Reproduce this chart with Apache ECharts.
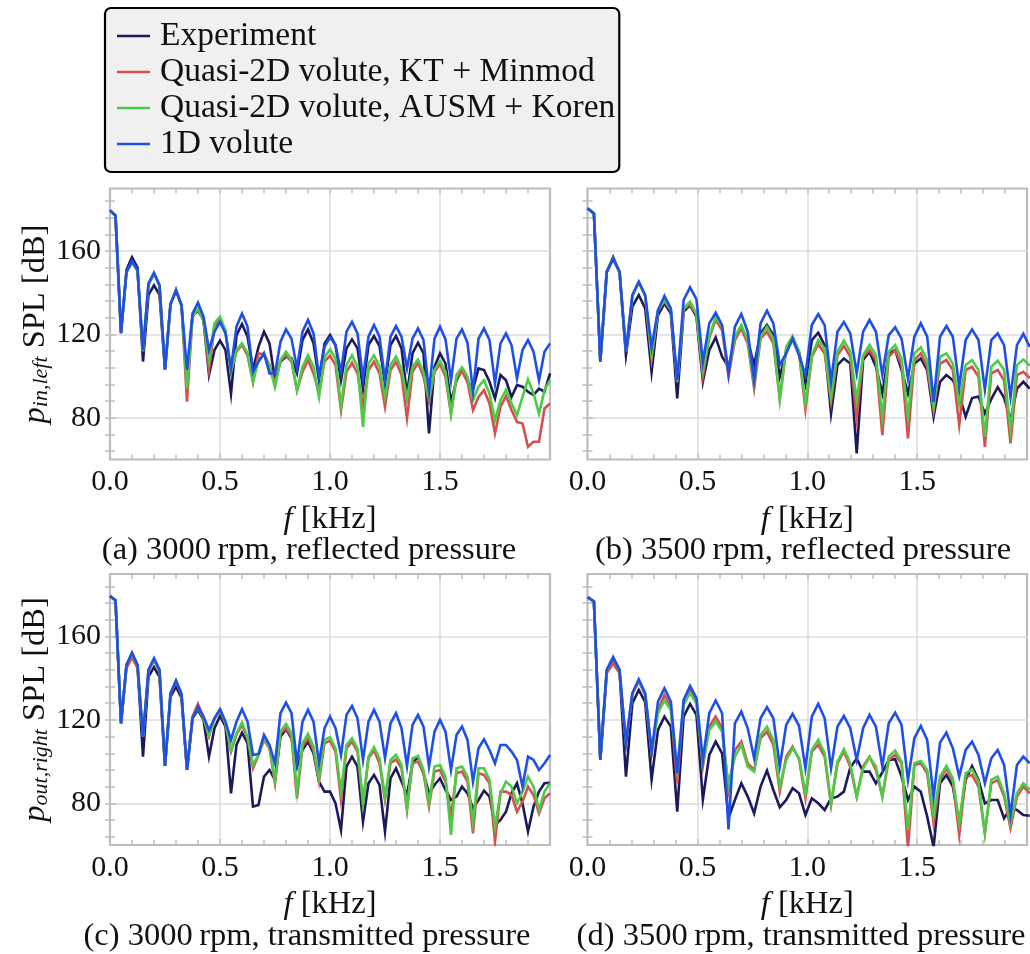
<!DOCTYPE html>
<html><head><meta charset="utf-8">
<script src="https://cdn.jsdelivr.net/npm/echarts@6/dist/echarts.min.js"></script>
<style>html,body{margin:0;padding:0;background:#fff}#c{width:1030px;height:954px}</style>
</head><body><div id="c"></div><script>
// ---------- data ----------
const SERIES_NAMES = ['Experiment', 'Quasi-2D volute, KT + Minmod', 'Quasi-2D volute, AUSM + Koren', '1D volute'];
const CAPTIONS = ['(a) 3000\u2009rpm, reflected pressure', '(b) 3500\u2009rpm, reflected pressure',
                  '(c) 3000\u2009rpm, transmitted pressure', '(d) 3500\u2009rpm, transmitted pressure'];
const X_LABELS = [0, 0.5, 1.0, 1.5];
const X_MINOR = [0.1,0.2,0.3,0.4,0.6,0.7,0.8,0.9,1.1,1.2,1.3,1.4,1.6,1.7,1.8,1.9];
const X_MAJOR = [0.5, 1.0, 1.5];
const Y_LABELS = [80, 120, 160];
const Y_MINOR = [64,72,88,96,104,112,128,136,144,152,168,176,184];

// frequency [kHz] sampling of the spectra
const F3000 = [0,0.025,0.05,0.075,0.1,0.125,0.15,0.175,0.2,0.225,
 0.25,0.275,0.3,0.325,0.35,0.375,0.4,0.425,0.45,0.475,
 0.5,0.525,0.55,0.575,0.6,0.625,0.65,0.675,0.7,0.725,
 0.75,0.775,0.8,0.825,0.85,0.875,0.9,0.925,0.95,0.975,
 1.0,1.025,1.05,1.075,1.1,1.125,1.15,1.175,1.2,1.225,
 1.25,1.275,1.3,1.325,1.35,1.375,1.4,1.425,1.45,1.475,
 1.5,1.525,1.55,1.575,1.6,1.625,1.65,1.675,1.7,1.725,
 1.75,1.775,1.8,1.825,1.85,1.875,1.9,1.925,1.95,1.975,
 2.0];
const F3500 = [0,0.0292,0.0583,0.0875,0.1167,0.1458,0.175,0.2042,0.2333,0.2625,
 0.2917,0.3208,0.35,0.3792,0.4083,0.4375,0.4667,0.4958,0.525,0.5542,
 0.5833,0.6125,0.6417,0.6708,0.7,0.7292,0.7583,0.7875,0.8167,0.8458,
 0.875,0.9042,0.9333,0.9625,0.9917,1.0208,1.05,1.0792,1.1083,1.1375,
 1.1667,1.1958,1.225,1.2542,1.2833,1.3125,1.3417,1.3708,1.4,1.4292,
 1.4583,1.4875,1.5167,1.5458,1.575,1.6042,1.6333,1.6625,1.6917,1.7208,
 1.75,1.7792,1.8083,1.8375,1.8667,1.8958,1.925,1.9542,1.9833,2.0125];

// (a) 3000 rpm, reflected
const A_EXP = [179.5,177,121,151,157,152,107,139,143.5,139,
 103,134.5,141,134,97,129,131.5,127,100.5,112.5,
 117,112.5,91.5,119.5,125,119,103,114,121.3,115.7,
 98,107,109.3,108.5,101.3,117.3,122.4,115.7,98,115.5,
 119.7,114.9,98,113.3,117.6,113.3,94,114.9,119.2,114.4,
 96.5,114.9,119.2,113.3,91,110.9,116,110.9,72.5,104.5,
 110.9,106,87.7,98,102.9,97.3,93.6,103.7,102.9,97.3,
 89.3,100.5,98,90,95.7,94.9,92.5,90.9,94,92.5,
 101.3];
const A_KT = [179.5,177,121,150,154.5,150.5,112,144,149,143.5,
 103,134.5,141.5,134,87.7,128.5,132,127,103,123.7,
 127,121,102,111.7,115,110,97,110.9,110.5,105.3,
 96.5,107.5,110,107,93,102,107.7,101.3,91.7,107,
 109.8,105.3,83.7,102,106.4,101.3,85.3,102.9,106.9,101.3,
 85.3,102.9,106.9,100.5,79.7,102,106.4,99.7,87.7,102,
 105.8,99.7,81.8,98.9,102.4,97.3,83.7,90,93.3,86.9,
 72.5,85.3,90.4,83.7,78,77.3,66.1,68.5,68.5,84.5,
 86.9];
const A_AUSM = [179.5,177,121,150,154.5,150.5,112,144,149,143.5,
 103,134.5,141.5,134,94,128.5,132.5,127,107.7,125.3,
 128.5,122,102,112.5,115.7,111,97.3,107.7,110,104.5,
 94.6,107.7,111.7,107.7,93.3,104.5,110,104.5,90,109,
 112.8,108.5,86,105.3,110,104.5,75.7,106,110,104.5,
 90,105.3,109.3,103.7,89.3,104.5,108,102,89.3,102.9,
 107.2,102,82,100.5,104.2,99.7,88.5,94.9,98,91.7,
 78.9,88.5,93.3,86.9,81.3,90,98.4,91.7,82,93.3,
 98];
const A_1D = [179.5,177,120.5,150,155.2,151,112.5,144.5,149.6,143.7,
 103.2,134.6,141,134,103,130,135.2,128.5,112.5,121.3,
 126,120.5,103.7,123.7,130,123.7,102,106.9,111,101.3,
 101.3,116.5,122.4,118,103.7,121.3,126.9,120.5,99.7,114,
 118.6,114.9,102,121.3,126,120.5,98.9,118.9,124.5,118.9,
 98,118.9,124,118.9,103.7,118,122.9,117.3,92.5,118,
 123.7,117.6,98,118,122.4,116,92.5,118,122.9,117.3,
 96.5,115.7,120.5,114.9,98.9,112.5,117.3,111.7,98,111.7,
 115.7];

// (b) 3500 rpm, reflected
const B_EXP = [180.5,178,107,150,157,150,110,133.3,138.9,132.5,
 102,129.3,134.9,130,89.3,130.9,134,128.5,97.3,112.5,
 118.6,109.3,104.5,117.6,123.7,117,105.3,120.5,124.5,119.7,
 99.7,111.7,118,111.5,96.5,117.3,120.8,114.9,82,105.3,
 108.5,106,62.9,107.7,111.7,104.5,91.7,110.9,112.5,102.9,
 91.7,106,108.5,102.9,80.5,97.3,100.5,98,91,80.5,
 89.5,90.2,82,89,94.7,89.6,78.9,94,97.3,94];
const B_KT = [180.5,178,107,150,156.2,150,111.7,138.5,145,138.5,
 108.5,131.5,136,131.5,97,132,134.6,129.5,99.7,118.5,
 127,122,99.7,117.3,122.9,115.7,94,118,121.3,115.7,
 89.3,112.5,117.3,111,84,109.3,115.2,110.9,87.7,110,
 114.4,109.3,79.7,109.3,112.5,107.7,71.7,109.3,112.5,105.3,
 70.1,107.7,110.9,104.5,83.7,106,107.7,102.9,76.5,102.9,
 104.5,99.7,66.1,101.3,102.9,98,67.7,100.5,102.1,99];
const B_AUSM = [180.5,178,107,150,156.2,150,111.7,138.5,145,138.5,
 110,131.5,136.5,132,97.3,132.5,135.7,130,102.9,118.9,
 128.5,123.7,102,118.9,124.5,117.3,96.5,118.9,123.7,118,
 88.5,114,119.2,112,87,110,117.3,113.3,90,111.7,
 117,111.7,88.5,110,114.9,110,80.5,111.7,114.9,108.5,
 80.5,110.9,113.8,107.7,85.3,109.3,110.9,106,86.9,105.3,
 107.7,102.9,70.9,104.5,107.4,102.9,74.1,105.3,108,105];
const B_1D = [180.5,178,106.9,150,156.2,150,111.7,138.9,145.3,138.9,
 114,131.7,138.4,132.5,98,136.5,142.6,136.8,106.9,125.3,
 130.4,124.5,101.3,123.7,129.8,121.3,98,125.3,131.4,125.3,
 105.3,110.9,118,110,100.5,124.5,129.8,124.5,97.3,121.3,
 126,120.5,101.3,121.3,126.9,121.3,100.5,119.7,123.4,118,
 98.9,118.9,125.3,118.9,87.7,118.9,124,118.9,94.9,117.3,
 122.4,117.3,93.6,117.3,120.5,114.9,90,114.9,120.3,114];

// (c) 3000 rpm, transmitted
const C_EXP = [179.5,177.3,118.4,146.4,151,146,102.4,140.8,145.3,140.5,
 97.9,131,136,130.5,96,120.8,124.8,120,102.4,116,
 121.9,116.8,84.8,108,113.9,108.8,78.4,79.2,92.8,96,
 91.2,112,115.5,111.2,97.6,105.6,109.6,104,90.4,85.6,
 85.6,80,67.2,97.6,102.4,97.6,71.2,89.6,93.6,88.8,
 66.4,92,96.8,90.4,84,99.2,102.4,94.4,84.8,88.8,
 92,86.4,81.6,83.2,88,84.8,77.6,81.6,86.1,83.2,
 69.6,72,76,84.8,89.6,80,66.4,78.4,85.6,89.6,
 89.9];
const C_KT = [179.5,177.3,118.4,144.8,150,145,112,143.5,148.5,143.5,
 97.9,132.5,138.5,132,96,121.6,127.7,121,112,120.5,
 124.8,118,104.8,113,117.6,111.2,96.8,103,110.4,106.5,
 89.6,113.6,116,112,82.4,107.2,111.2,105.6,90.4,108.8,
 110.1,104.8,81.6,106.4,109.6,104.8,80,101.6,105.3,99.2,
 81.6,99.2,101.1,96.8,76.8,99.2,100,94.4,78.4,95.2,
 96,90.4,73.6,94.4,95.2,90.4,65.6,94.4,93.6,89.6,
 61.6,85.6,85.6,84,76,80.8,88,84,75.2,82.4,
 84.8];
const C_AUSM = [179.5,177.3,118.4,146.4,152,146.4,112,144,149,144,
 97.9,132.8,138.9,132.5,96,120.8,126,120.8,112.8,120.8,
 125.1,118.4,105.6,113.6,118.7,112,98.4,103.2,111.2,107.2,
 91.2,114.4,118.1,113.6,85.6,108.8,113.3,107.2,92,110.4,
 111.7,106.4,85.6,108,111.2,106.4,80,102.4,106.9,101.6,
 82.9,100.8,103.2,98.4,77.6,101.6,102.7,96,80,97.6,
 98.4,92.8,64.8,96.8,97.6,92.8,70.4,96.8,96.8,91.2,
 68.8,84.8,90.4,88,80,85.6,92.8,88,76.8,85.6,
 89.6];
const C_1D = [179.5,177.3,118.4,146.4,152.3,146.4,112,144,149.6,144,
 97.9,132.8,138.9,132.5,96,120.8,126.4,121.6,115.2,120.8,
 125.1,119.2,110.4,119.2,125.1,119.2,103.2,103.7,112.8,108,
 99.2,123.2,128.3,123.2,99.2,119.2,124.8,119.2,99.2,116,
 121.6,116,103.2,122.4,126.7,120.8,100.8,119.2,124.8,119.2,
 101.6,118.4,123.2,116,97.9,117.6,122.4,116.8,97.6,114.4,
 120,114.4,96,112.8,116.8,110.4,90.4,106.4,110.7,105.6,
 99.2,108,108,104.8,100.8,88,102.4,100.8,96,99.2,
 103.2];

// (d) 3500 rpm, transmitted
const D_EXP = [178.9,176.8,100.8,143,148.8,143,92.8,128,134.4,128.5,
 91.5,115.2,121.6,116.8,76,121.6,127.7,122.4,81.9,103.2,
 109.6,104,73,81.6,89.6,83.2,75.2,88,95.7,86.4,
 78.1,81.6,87.2,84.8,74.4,82.4,80,76.8,82.4,83.2,
 85.6,97.2,101.5,95.2,95.2,89.6,94.8,100.8,101.2,92.8,
 81.6,88,85.6,73.6,59,89.6,93.6,88,70.4,91.2,
 97.9,91.2,80,81.6,81.6,72.8,77.6,76.8,74.4,74];
const D_KT = [178.9,176.8,100.8,142.4,147.2,142.4,108.8,132.5,138.5,132,
 104,124.8,132,126.4,89.6,128,134.4,128.8,97.6,116.8,
 121.6,116,86.4,105.6,109.6,99.2,96,111.2,114.4,108,
 85.6,102.4,107.2,101.2,82.4,104.8,108,102.4,79.2,99.2,
 104.8,97.6,83.2,97.6,102.4,96,83.2,100.8,103.2,99.2,
 58.4,98.4,99.2,94.4,70.4,91.2,96.8,90.4,64.8,92.8,
 93.6,88,65.6,89.6,91.2,83.2,68,83.2,88,84.8];
const D_AUSM = [178.9,176.8,100.8,144,150,144,108.8,132.8,139,132.5,
 104.8,123.2,129.3,124.8,96,127.2,132.8,128,99.2,115.2,
 119.2,114.4,88.8,102.4,108,97.6,95.2,112.8,116.8,110.4,
 88,100.8,106.4,101.6,84.8,105.6,110.4,104,80,100,
 105.9,99.2,83.2,96.8,102.1,97.6,83.2,102.4,105.3,100,
 67.2,99.2,100.3,96,74.4,92.8,97.9,92,70.4,94.4,
 96.3,90.4,65.6,91.2,92.8,84.8,70.4,84.8,89.6,86.4];
const D_1D = [178.9,176.8,100.8,144,150.1,144,108.8,132.8,139.5,132.8,
 104.8,128.8,135.2,128.8,94.4,129.6,136.3,130.4,100.8,123.2,
 129.3,123.2,67.5,118.4,124,116,101.6,120.8,126.1,120.8,
 97.6,117.6,122.9,117.2,96.8,121.6,127.7,120.8,96.8,116.8,
 121.9,116,100.8,116,122.4,116.8,97.6,118.4,123.5,117.6,
 91.2,111.2,117.1,110.4,83.2,109.1,113.9,106.4,92.8,105.6,
 109.6,103.2,89.6,101.6,105.6,98.4,74.4,98.4,102.4,99.2];

// ---------- layout / style ----------
const FONT = "'Liberation Serif', 'DejaVu Serif', serif";
const COLORS = ['#1b1b5c', '#d64f4f', '#4ccb46', '#1f4fe6'];
const FRAME = '#bdbdbd';
const GRIDC = '#dcdcdc';
const TXT = '#111';

const PANELS = [
  {g:{left:110,   top:188.5, width:440,   height:271}, f:F3000, s:[A_EXP,A_KT,A_AUSM,A_1D], cap:CAPTIONS[0], cx:309, cy:529, yname:'{it|p}{sub|in,left} SPL [dB]'},
  {g:{left:587.5, top:188.5, width:439.5, height:271}, f:F3500, s:[B_EXP,B_KT,B_AUSM,B_1D], cap:CAPTIONS[1], cx:803, cy:529, yname:null},
  {g:{left:110,   top:574,   width:440,   height:271}, f:F3000, s:[C_EXP,C_KT,C_AUSM,C_1D], cap:CAPTIONS[2], cx:307, cy:915, yname:'{it|p}{sub|out,right} SPL [dB]'},
  {g:{left:587.5, top:574,   width:439.5, height:271}, f:F3500, s:[D_EXP,D_KT,D_AUSM,D_1D], cap:CAPTIONS[3], cx:801, cy:915, yname:null}
];

const nameRich = {
  it:  {fontFamily: FONT, fontStyle:'italic', fontSize:32.5, color:TXT},
  sub: {fontFamily: FONT, fontStyle:'italic', fontSize:22, color:TXT, verticalAlign:'bottom', lineHeight:8}
};

const grid = [], xAxis = [], yAxis = [], series = [], title = [];
const tickStyle = {color: FRAME, width: 1.5};

PANELS.forEach((p, gi) => {
  grid.push(Object.assign({show:true, borderColor:FRAME, borderWidth:2.2, backgroundColor:'#fff'}, p.g));
  const base = {gridIndex: gi, type: 'value', min: 0, max: 2.0, axisLine: {show:false}};
  xAxis.push(Object.assign({}, base, {
    position:'bottom',
    axisTick:{show:true, inside:true, length:6, customValues:X_MAJOR, lineStyle:tickStyle},
    axisLabel:{show:true, customValues:X_LABELS, formatter:v => Number(v).toFixed(1), fontFamily:FONT, fontSize:30, color:TXT, margin:8},
    splitLine:{show:true, lineStyle:{color:GRIDC, width:1.5}},
    name:'{it|f} [kHz]', nameLocation:'middle', nameGap:43,
    nameTextStyle:{fontFamily:FONT, fontSize:32.5, color:TXT, rich:nameRich}
  }));
  xAxis.push(Object.assign({}, base, {
    position:'bottom',
    axisTick:{show:true, inside:true, length:5, customValues:X_MINOR, lineStyle:tickStyle},
    axisLabel:{show:false}, splitLine:{show:false}
  }));
  xAxis.push(Object.assign({}, base, {
    position:'top',
    axisTick:{show:true, inside:true, length:5, customValues:X_MINOR.concat(X_MAJOR), lineStyle:tickStyle},
    axisLabel:{show:false}, splitLine:{show:false}
  }));

  const ybase = {gridIndex: gi, type:'value', min:60, max:190, axisLine:{show:false}};
  yAxis.push(Object.assign({}, ybase, {
    position:'left',
    axisTick:{show:true, inside:true, length:6, customValues:Y_LABELS, lineStyle:tickStyle},
    axisLabel:{show: !!p.yname, customValues:Y_LABELS, fontFamily:FONT, fontSize:30, color:TXT, margin:9},
    splitLine:{show:true, lineStyle:{color:GRIDC, width:1.5}},
    name: p.yname || '', nameLocation:'middle', nameRotate:90, nameGap:57,
    nameTextStyle:{fontFamily:FONT, fontSize:32.5, color:TXT, rich:nameRich}
  }));
  yAxis.push(Object.assign({}, ybase, {
    position:'left',
    axisTick:{show:true, inside:true, length:5, customValues:Y_MINOR, lineStyle:tickStyle},
    axisLabel:{show:false}, splitLine:{show:false}
  }));
  yAxis.push(Object.assign({}, ybase, {
    position:'right',
    axisTick:{show:true, inside:true, length:5, customValues:Y_MINOR.concat(Y_LABELS), lineStyle:tickStyle},
    axisLabel:{show:false}, splitLine:{show:false}
  }));

  p.s.forEach((vals, si) => {
    series.push({
      name: SERIES_NAMES[si], type:'line',
      xAxisIndex: gi*3, yAxisIndex: gi*3,
      data: p.f.map((x, i) => [x, vals[i]]),
      symbol:'none', showSymbol:false, clip:true, silent:true,
      lineStyle:{color:COLORS[si], width:2.6, join:'miter'},
      itemStyle:{color:COLORS[si]}
    });
  });

  title.push({
    text: p.cap, left: p.cx - 5, top: p.cy, textAlign:'center',
    textStyle:{fontFamily:FONT, fontSize:32.5, fontWeight:'normal', color:TXT}
  });
});

const chart = echarts.init(document.getElementById('c'), null, {renderer:'canvas'});
chart.setOption({
  animation:false,
  backgroundColor:'#fff',
  title, grid, xAxis, yAxis, series,
  legend:{
    data: SERIES_NAMES, orient:'vertical', left:105, top:8,
    icon:'rect', itemWidth:33, itemHeight:2.6, itemGap:0, selectedMode:false,
    backgroundColor:'#f0f0f0', borderColor:'#000', borderWidth:2.2, borderRadius:6,
    padding:[10,4,10,12],
    textStyle:{fontFamily:FONT, fontSize:33.5, color:TXT, lineHeight:36, padding:[0,0,0,5]}
  }
});
</script></body></html>
